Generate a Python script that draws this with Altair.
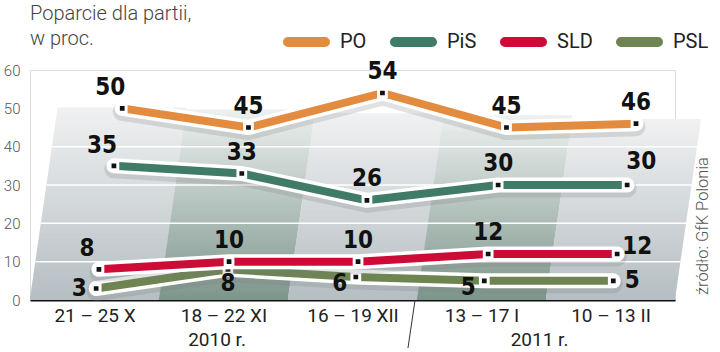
import altair as alt
import pandas as pd

# ---------------- data ----------------
periods = ["21 – 25 X", "18 – 22 XI", "16 – 19 XII", "13 – 17 I", "10 – 13 II"]
parties = ["PO", "PiS", "SLD", "PSL"]
po = [50, 45, 54, 45, 46]
pis = [35, 33, 26, 30, 30]
sld = [8, 10, 10, 12, 12]
psl = [3, 8, 6, 5, 5]
years = ["2010 r.", "2011 r."]
year_at = [0.95, 3.45]
y_ticks = [0, 10, 20, 30, 40, 50, 60]
grid_values = [10, 20, 30, 40]
source_text = "źródło: GfK Polonia"
title_lines = ["Poparcie dla partii,", "w proc."]

# label placement codes (kept separate from values)
label_place = {
    "PO": ["upleft", "up", "up", "up", "up"],
    "PiS": ["upleft", "up", "up", "up", "upright"],
    "SLD": ["upleft", "up", "up", "up", "rightup"],
    "PSL": ["left", "down", "downleft", "downleft", "right"],
}

# ---------------- styles ----------------
party_colors = ["#E38B3F", "#3F7B67", "#CE0A36", "#6E8552"]
offsets = {
    "up": (0, -21), "upleft": (-12, -20), "upright": (14, -23),
    "rightup": (20, -7), "left": (-17, 0), "right": (19, 0),
    "down": (0, 15), "downleft": (-16, 7),
}
SKEW = 0.0043          # perspective shear (index units per value unit)
NUM_FONT = "DejaVu Sans Condensed, Roboto Condensed, Roboto"
TXT_FONT = "Roboto"

series = {"PO": po, "PiS": pis, "SLD": sld, "PSL": psl}
rows = []
for p in parties:
    for i, v in enumerate(series[p]):
        rows.append({"party": p, "i": i, "value": v, "place": label_place[p][i]})
df = pd.DataFrame(rows)
df["xs"] = df["i"] + SKEW * df["value"]

xscale = alt.Scale(domain=[-0.5, 4.5], nice=False, zero=False)
yscale = alt.Scale(domain=[0, 60], nice=False)
label_arr = "[" + ",".join("'" + s + "'" for s in periods) + "]"
xaxis = alt.Axis(values=[0, 1, 2, 3, 4], labelExpr=label_arr + "[datum.value]",
                 title=None, ticks=False, grid=False, domainColor="#111",
                 domainWidth=2, labelFont=TXT_FONT, labelFontSize=19,
                 labelColor="#222", labelPadding=6)
yaxis = alt.Axis(values=y_ticks, title=None, ticks=False, domain=False, grid=False,
                 labelFont=TXT_FONT, labelFontSize=15, labelFontWeight=300,
                 labelColor="#555", labelPadding=10)

legend_path = ("M-0.88,-0.12 L0.88,-0.12 A0.12,0.12 0 0 1 0.88,0.12 "
               "L-0.88,0.12 A0.12,0.12 0 0 1 -0.88,-0.12 Z")
legend = alt.Legend(orient="none", legendX=253, legendY=-52, direction="horizontal",
                    columns=4, title=None, symbolType=legend_path, symbolSize=1764,
                    symbolStrokeWidth=5, labelFont=TXT_FONT, labelFontSize=20,
                    labelColor="#222", columnPadding=15, labelOffset=10)
color = alt.Color("party:N", scale=alt.Scale(domain=parties, range=party_colors), legend=legend)

layers = []

# background panel: skewed columns, gradient shading
dark = ((125, 150, 140), (236, 239, 238))
light = ((181, 190, 194), (240, 241, 242))
for i in range(5):
    c0, c1 = dark if i % 2 == 1 else light
    top = 50 - 0.8 * i
    expr = ("'rgb(' + round({a}+({b}-{a})*datum.t) + ',' + round({c}+({d}-{c})*datum.t)"
            " + ',' + round({e}+({f}-{e})*datum.t) + ')'").format(
        a=c0[0], b=c1[0], c=c0[1], d=c1[1], e=c0[2], f=c1[2])
    bg = alt.Chart(alt.sequence(0, 50, 0.5, as_="v")).transform_filter(
        alt.datum.v < top
    ).transform_calculate(
        x1=f"{i} - 0.5 + {SKEW} * datum.v",
        x2=f"{i} + 0.5 + {SKEW} * datum.v",
        v2="datum.v + 0.7",
        t=f"datum.v / {top}",
        col=expr,
    ).mark_rect(strokeWidth=0).encode(
        x=alt.X("x1:Q", scale=xscale, axis=xaxis),
        x2="x2:Q",
        y=alt.Y("v:Q", scale=yscale, axis=yaxis),
        y2="v2:Q",
        fill=alt.Fill("col:N", scale=None),
    )
    layers.append(bg)

# white gridlines following the shear
grid = alt.Chart(pd.DataFrame({"g": grid_values})).transform_calculate(
    x1=f"-0.5 + {SKEW} * datum.g", x2=f"4.5 + {SKEW} * datum.g"
).mark_rule(color="white", strokeWidth=1.5).encode(
    x=alt.X("x1:Q", scale=xscale, axis=xaxis), x2="x2:Q",
    y=alt.Y("g:Q", scale=yscale, axis=yaxis),
)
layers.append(grid)

# series lines (bottom to top)
for p in ["PSL", "SLD", "PiS", "PO"]:
    base = alt.Chart(df).transform_filter(alt.datum.party == p)
    enc = dict(x=alt.X("xs:Q", scale=xscale, axis=xaxis),
               y=alt.Y("value:Q", scale=yscale, axis=yaxis),
               order="i:Q")
    layers.append(base.mark_line(color="#7a7a7a", strokeWidth=19, opacity=0.22,
                                 strokeCap="round", strokeJoin="round", yOffset=3).encode(**enc))
    layers.append(base.mark_line(color="white", strokeWidth=15,
                                 strokeCap="round", strokeJoin="round").encode(**enc))
    layers.append(base.mark_line(strokeWidth=8, strokeCap="butt",
                                 strokeJoin="round").encode(color=color, **enc))
    layers.append(base.mark_square(size=60, fill="#111", stroke="white", strokeWidth=3,
                                   opacity=1).encode(x=enc["x"], y=enc["y"]))

# value labels
for code, (dx, dy) in offsets.items():
    layers.append(
        alt.Chart(df).transform_filter(alt.datum.place == code).mark_text(
            font=NUM_FONT, fontSize=24, fontWeight="bold", color="#111",
            dx=dx, dy=dy, align="center", baseline="middle",
        ).encode(x=alt.X("xs:Q", scale=xscale, axis=xaxis),
                 y=alt.Y("value:Q", scale=yscale, axis=yaxis),
                 text="value:Q")
    )

# year labels under the axis
layers.append(
    alt.Chart(pd.DataFrame({"year": years, "at": year_at})).mark_text(
        font=TXT_FONT, fontSize=19, color="#222", baseline="middle"
    ).encode(x=alt.X("at:Q", scale=xscale, axis=xaxis), y=alt.value(270), text="year:N")
)

# divider between years
layers.append(
    alt.Chart(pd.DataFrame({"a": [2.485], "b": [2.43], "v": [0]})).mark_rule(
        color="#333", strokeWidth=1
    ).encode(x=alt.X("a:Q", scale=xscale, axis=xaxis), x2="b:Q",
             y=alt.Y("v:Q", scale=yscale, axis=yaxis), y2=alt.value(278))
)

# source note
layers.append(
    alt.Chart(pd.DataFrame({"s": [source_text]})).mark_text(
        font=TXT_FONT, fontSize=16.5, fontWeight=300, color="#555", angle=270,
        align="center", baseline="middle"
    ).encode(x=alt.value(673), y=alt.value(156), text="s:N")
)

chart = alt.layer(*layers).properties(
    width=645, height=230,
    autosize=alt.AutoSizeParams(type="none"),
    padding={"left": 30, "top": 70, "right": 45, "bottom": 52},
    title=alt.TitleParams(title_lines, anchor="start", frame="group", fontSize=20,
                          font=TXT_FONT, fontWeight=300, color="#444",
                          lineHeight=25, offset=-31),
).configure_view(stroke=None).configure(background="white")

chart.save("out.html", embed_options={"renderer": "svg", "actions": False})
